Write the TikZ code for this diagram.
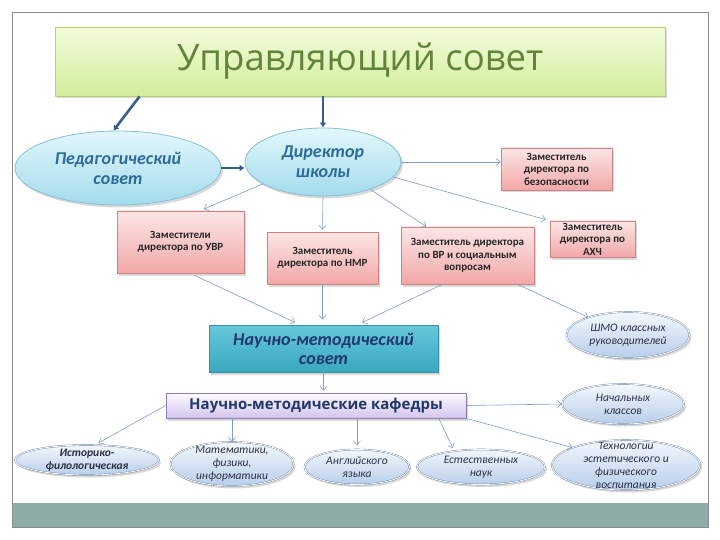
\documentclass[tikz,border=0pt]{standalone}
\usepackage{fontspec}
\setmainfont{Carlito}
\newfontfamily\titlefont{Open Sans}
\usepackage{xcolor}
\usetikzlibrary{arrows.meta,shapes.geometric,shadows}

\definecolor{linkblue}{HTML}{7F9CC8}
\definecolor{darkblue}{HTML}{33608F}
\definecolor{frameline}{HTML}{8C8C8C}
\definecolor{barcolor}{HTML}{8EACA8}
\definecolor{titletop}{HTML}{F4FCDC}
\definecolor{titlebot}{HTML}{D2ED9C}
\definecolor{titleline}{HTML}{B6D078}
\definecolor{titletext}{HTML}{62843A}
\definecolor{counciltop}{HTML}{E2F7FC}
\definecolor{councilbot}{HTML}{A3DBEC}
\definecolor{councilline}{HTML}{86BFD4}
\definecolor{counciltext}{HTML}{2C6B9A}
\definecolor{zamtop}{HTML}{FCE6E6}
\definecolor{zambot}{HTML}{F2A8A8}
\definecolor{zamline}{HTML}{C98585}
\definecolor{nmstop}{HTML}{66C8DA}
\definecolor{nmsbot}{HTML}{3AA8BF}
\definecolor{nmsline}{HTML}{3590A6}
\definecolor{navytext}{HTML}{22386A}
\definecolor{nmktop}{HTML}{FDFBFF}
\definecolor{nmkbot}{HTML}{D3C4EE}
\definecolor{nmkline}{HTML}{8A7DB0}
\definecolor{depttop}{HTML}{F3F8FD}
\definecolor{deptbot}{HTML}{B8CEEA}
\definecolor{deptline}{HTML}{6F86A8}
\definecolor{depttextc}{HTML}{2A2F45}

\begin{document}
\begin{tikzpicture}[
  x=1pt, y=-1pt,
  >={Straight Barb[length=4pt,width=7pt]},
  link/.style={draw=linkblue, line width=0.6pt, ->},
  mainlink/.style={draw=darkblue, line width=2.6pt, -{Latex[length=5pt,width=7pt]}},
  lifted/.style={drop shadow={opacity=0.3, shadow xshift=2pt, shadow yshift=-2.5pt}},
  head/.style={rectangle, draw=titleline, line width=0.8pt, top color=titletop,
               bottom color=titlebot, lifted, minimum width=610, minimum height=69,
               font=\titlefont\fontsize{36.5}{42}\selectfont, text=titletext},
  council/.style={ellipse, draw=councilline, line width=0.8pt, top color=counciltop,
                  bottom color=councilbot, lifted, inner sep=0pt, align=center,
                  text=counciltext, font=\bfseries\itshape\fontsize{18}{20}\selectfont},
  zam/.style={rectangle, draw=zamline, line width=0.6pt, top color=zamtop,
              bottom color=zambot, lifted, inner sep=0pt, align=center,
              text=black!85, font=\bfseries\fontsize{11}{12.5}\selectfont},
  nmsbox/.style={rectangle, draw=nmsline, line width=0.8pt, top color=nmstop,
                 bottom color=nmsbot, lifted, inner sep=0pt, align=center,
                 text=navytext, font=\bfseries\itshape\fontsize{18}{19}\selectfont},
  nmkbox/.style={rectangle, draw=nmkline, line width=0.8pt, top color=nmktop,
                 bottom color=nmkbot, lifted, inner sep=0pt,
                 text=navytext, font=\titlefont\bfseries\fontsize{15}{18}\selectfont},
  dept/.style={ellipse, draw=deptline, double=white, double distance=0.8pt,
               top color=depttop, bottom color=deptbot, lifted, inner sep=0pt,
               label={[depttext]center:{#1}}},
  depttext/.style={align=center, text=depttextc, font=\itshape\fontsize{11.5}{13}\selectfont}
]
\useasboundingbox (0,0) rectangle (720,540);
\fill[barcolor] (12,503) rectangle (708,527);
\draw[frameline, line width=0.8pt] (12,12) rectangle (708,527);

% top level
\node[head] (head) at (360,61.5) {Управляющий совет};
\node[council, minimum width=206, minimum height=74] (ped) at (118,168) {Педагогический\\совет};
\node[council, minimum width=156, minimum height=68] (dir) at (323,162) {Директор\\школы};

% deputies
\node[zam, minimum width=111, minimum height=42] (bez) at (556.5,169) {Заместитель\\директора по\\безопасности};
\node[zam, minimum width=127, minimum height=62] (uvr) at (180.5,242) {Заместители\\директора по УВР};
\node[zam, minimum width=111, minimum height=52] (nmr) at (322.5,258) {Заместитель\\директора по НМР};
\node[zam, minimum width=133, minimum height=57] (vr) at (467.5,255.5) {Заместитель директора\\по ВР и социальным\\вопросам};
\node[zam, minimum width=85, minimum height=36] (ahch) at (592.5,239) {Заместитель\\директора по\\АХЧ};

% methodical level
\node[nmsbox, minimum width=229, minimum height=47] (nms) at (323.5,348.5) {Научно-методический\\совет};
\node[nmkbox, minimum width=300, minimum height=25] (nmk) at (316,405.5) {Научно-методические кафедры};
\node[dept={ШМО классных\\руководителей}, minimum width=123, minimum height=46] (shmo) at (628,335) {};
\node[dept={Начальных\\классов}, minimum width=122, minimum height=40] (nach) at (623,404) {};

% departments
\node[dept={\bfseries Историко-\\\bfseries филологическая}, minimum width=144, minimum height=30] (ist) at (87,460) {};
\node[dept={Математики,\\физики,\\информатики}, minimum width=123, minimum height=44] (mat) at (232,464) {};
\node[dept={Английского\\языка}, minimum width=105, minimum height=35] (eng) at (357,467) {};
\node[dept={Естественных\\наук}, minimum width=128, minimum height=35] (est) at (481,467) {};
\node[dept={Технологии\\эстетического и\\физического\\воспитания}, minimum width=148, minimum height=50] (tech) at (626,465) {};

% links
\draw[mainlink] (head.189) -- (ped.97);
\draw[mainlink] (dir.north |- head.south) -- (dir.north);
\draw[mainlink] (ped.east) -- (ped.east -| dir.west);
\draw[link] (dir.east) -- (dir.east -| bez.west);
\draw[link, shorten >=4pt] (dir.-12) -- (ahch.north west);
\draw[link] (dir.-30) -- (vr.145);
\draw[link, shorten >=2pt] (dir.south) -- (nmr.north);
\draw[link, shorten >=4pt] (dir.200) -- (uvr.58);
\draw[link, shorten <=5pt, shorten >=5pt] (uvr.-73) -- (nms.135);
\draw[link, shorten >=5pt] (nmr.south) -- (nmr.south |- nms.north);
\draw[link, shorten >=5pt] (vr.229) -- (nms.35);
\draw[link] (vr.-30) -- (shmo.156);
\draw[link, shorten >=2pt] (nms.south) -- (nms.south |- nmk.north);
\draw[link, shorten >=4pt] (nmk.west) -- (ist.62);
\draw[link] (mat.north |- nmk.south) -- (mat.north);
\draw[link, shorten >=4pt] (eng.north |- nmk.south) -- (eng.north);
\draw[link, shorten >=3pt] (nmk.-6) -- (est.149);
\draw[link] (nmk.east) -- (nach.west);
\draw[link] (nmk.south east) -- (tech.162);
\end{tikzpicture}
\end{document}
